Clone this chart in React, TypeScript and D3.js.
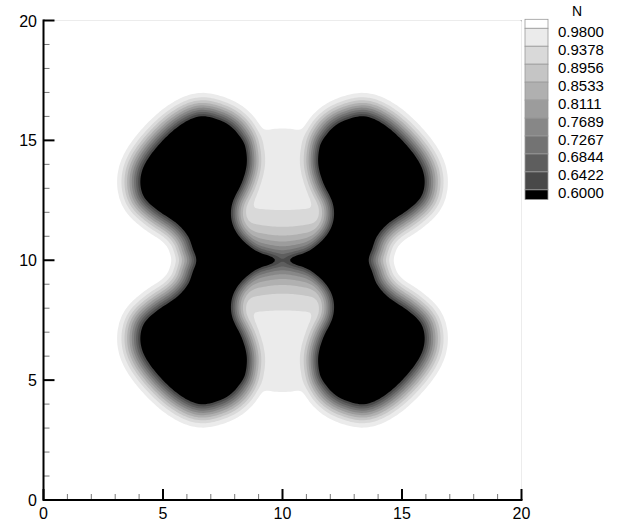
import React, { useMemo } from 'react';
import * as d3 from 'd3';

// contour levels of N (ascending) and their legend labels
const levels = [0.6, 0.6422, 0.6844, 0.7267, 0.7689, 0.8111, 0.8533, 0.8956, 0.9378, 0.98];
const levelLabels = ['0.6000', '0.6422', '0.6844', '0.7267', '0.7689', '0.8111', '0.8533', '0.8956', '0.9378', '0.9800'];
// flood colours: below 0.6, each band, above 0.98
const bandColors = ['#000000', '#494949', '#5e5e5e', '#737373', '#878787', '#9c9c9c', '#b0b0b0', '#c5c5c5', '#d9d9d9', '#ebebeb', '#ffffff'];

// outline of the dark (N < 0.6) region, upper-left quarter
const edgeX = [9.76, 8.92, 8.22, 7.87, 7.77, 7.87, 8.22, 8.43, 8.43, 8.29, 7.94, 7.38, 6.55, 5.71, 4.87, 4.25, 4.04, 4.18, 4.74, 5.57, 6.06, 6.25, 6.42];
const edgeY = [10.0, 10.29, 10.85, 11.4, 11.96, 12.52, 13.21, 13.9, 14.46, 15.02, 15.51, 15.85, 16.02, 15.64, 14.88, 14.05, 13.35, 12.65, 12.1, 11.54, 10.98, 10.43, 10.0];

// light pools above and below the centre
const poolCentersY = [12.25, 7.75];
const poolRadius = 3.25;
const poolDepth = 0.04;

// halo widths around the dark region (outside / inside the pools) and profile power
const haloWidth = [1.0, 0.85];
const haloPower = 1.3;
// pocket around the saddle: depth, scale, power, wall angle, opening (deg), reach
const wedge = [0.34, 0.9, 1.2, 19, 142, 3.0];
const smoothing = 0.15;

const xTicks = [0, 5, 10, 15, 20];
const yTicks = [0, 5, 10, 15, 20];
const minorTicks = d3.range(0, 21);

const W = 622;
const H = 525;
const x = d3.scaleLinear().domain([0, 20]).range([43.5, 521.5]);
const y = d3.scaleLinear().domain([0, 20]).range([500, 20.5]);

function catmullRom(pts, steps) {
  const out = [];
  const n = pts.length;
  for (let i = 0; i < n; i++) {
    const p0 = pts[(i - 1 + n) % n], p1 = pts[i], p2 = pts[(i + 1) % n], p3 = pts[(i + 2) % n];
    for (let s = 0; s < steps; s++) {
      const t = s / steps, t2 = t * t, t3 = t2 * t;
      out.push([0, 1].map(k => 0.5 * (2 * p1[k] + (p2[k] - p0[k]) * t +
        (2 * p0[k] - 5 * p1[k] + 4 * p2[k] - p3[k]) * t2 +
        (3 * p1[k] - p0[k] - 3 * p2[k] + p3[k]) * t3)));
    }
  }
  return out;
}

function buildBlobs() {
  const quarter = edgeX.map((v, i) => [v, edgeY[i]]);
  const lower = quarter.slice(1, -1).reverse().map(([a, b]) => [a, 20 - b]);
  const left = catmullRom([...quarter, ...lower], 6);
  const right = left.map(([a, b]) => [20 - a, b]);
  return [left, right];
}

function poolMask(px, py) {
  let m = 0;
  for (const cy of poolCentersY) {
    const r = Math.hypot(px - 10, py - cy);
    m = Math.max(m, 1 / (1 + Math.exp((r - poolRadius) / 0.06)));
  }
  return m;
}

function wedgeDip(px, py) {
  const [depth, scale, power, wall, opening, reach] = wedge;
  const dx = px - 10, dy = Math.abs(py - 10);
  const r = Math.hypot(dx, dy);
  const th = Math.atan2(dy, dx) * 180 / Math.PI - wall;
  const k = 180 / opening;
  let s = 0;
  if (th > 0 && th < opening) s = Math.sin(k * th * Math.PI / 180);
  const rho = r * Math.pow(Math.max(s, 0), 1 / k);
  const win = 1 / (1 + Math.exp((r - reach) / 0.15));
  return depth * Math.exp(-Math.pow(rho / scale, power)) * win;
}

function blur(src, n, sig) {
  const r = Math.ceil(3 * sig);
  const kern = d3.range(-r, r + 1).map(k => Math.exp(-(k * k) / (2 * sig * sig)));
  const tmp = new Float64Array(n * n);
  const out = new Float64Array(n * n);
  for (let j = 0; j < n; j++)
    for (let i = 0; i < n; i++) {
      let s = 0, w = 0;
      for (let k = -r; k <= r; k++) {
        const ii = i + k;
        if (ii >= 0 && ii < n) { s += kern[k + r] * src[j * n + ii]; w += kern[k + r]; }
      }
      tmp[j * n + i] = s / w;
    }
  for (let j = 0; j < n; j++)
    for (let i = 0; i < n; i++) {
      let s = 0, w = 0;
      for (let k = -r; k <= r; k++) {
        const jj = j + k;
        if (jj >= 0 && jj < n) { s += kern[k + r] * tmp[jj * n + i]; w += kern[k + r]; }
      }
      out[j * n + i] = s / w;
    }
  return out;
}

function buildField(n, blobs) {
  const h = 20 / n;
  const values = new Float64Array(n * n);
  for (let j = 0; j < n; j++) {
    const py = 20 - (j + 0.5) * h;
    for (let i = 0; i < n; i++) {
      const px = (i + 0.5) * h;
      let d2 = Infinity;
      let inside = false;
      for (const poly of blobs) {
        if (d3.polygonContains(poly, [px, py])) inside = true;
        const m = poly.length;
        for (let k = 0; k < m; k++) {
          const a = poly[k], b = poly[(k + 1) % m];
          const ex = b[0] - a[0], ey = b[1] - a[1];
          const wx = px - a[0], wy = py - a[1];
          let t = (wx * ex + wy * ey) / (ex * ex + ey * ey);
          t = t < 0 ? 0 : t > 1 ? 1 : t;
          const dx = wx - t * ex, dy = wy - t * ey;
          const dd = dx * dx + dy * dy;
          if (dd < d2) d2 = dd;
        }
      }
      const d = Math.sqrt(d2);
      const mask = poolMask(px, py);
      const wHalo = haloWidth[0] + (haloWidth[1] - haloWidth[0]) * mask;
      let halo;
      if (inside) halo = Math.min(0.5, 0.4 + 0.4 * haloPower * d / wHalo);
      else halo = d < wHalo ? 0.4 * Math.pow(1 - d / wHalo, haloPower) : 0;
      const deficit = Math.max(halo, wedgeDip(px, py)) + poolDepth * mask;
      values[j * n + i] = 1 - deficit;
    }
  }
  return blur(values, n, smoothing / h);
}

const App = () => {
  const n = 220;
  const h = 20 / n;

  const contours = useMemo(() => {
    const blobs = buildBlobs();
    const values = buildField(n, blobs);
    return d3.contours().size([n, n]).thresholds(levels)(Array.from(values));
  }, []);

  const path = d3.geoPath(d3.geoTransform({
    point(px, py) { this.stream.point(x(px * h), y(20 - py * h)); }
  }));

  const legendTop = 19.3;
  const legendStep = 17.95;
  const bound = k => 28.3 + k * legendStep; // k = 0 for the highest level
  const font = 'Liberation Sans, Arial, Helvetica, sans-serif';

  return (
    <svg width={W} height={H} style={{ position: 'absolute', left: 0, top: 0, background: '#fff' }}>
      <rect x={x(0)} y={y(20)} width={x(20) - x(0)} height={y(0) - y(20)} fill="#000" />
      {contours.map((c, i) => (
        <path key={i} d={path(c)} fill={bandColors[levels.indexOf(c.value) + 1]} />
      ))}

      {/* minor ticks */}
      {minorTicks.filter(t => t % 5 !== 0).map(t => (
        <g key={'m' + t} stroke="#777" strokeWidth={1}>
          <line x1={x(t)} x2={x(t)} y1={y(0)} y2={y(0) - 6} />
          <line x1={x(0)} x2={x(0) + 6} y1={y(t)} y2={y(t)} />
        </g>
      ))}
      {/* major ticks */}
      {xTicks.map(t => (
        <line key={'xt' + t} x1={x(t)} x2={x(t)} y1={y(0)} y2={y(0) - 11} stroke="#000" strokeWidth={2} />
      ))}
      {yTicks.map(t => (
        <line key={'yt' + t} x1={x(0)} x2={x(0) + 11} y1={y(t)} y2={y(t)} stroke="#000" strokeWidth={2} />
      ))}
      <line x1={x(0)} x2={x(20) + 1} y1={y(0)} y2={y(0)} stroke="#000" strokeWidth={2} />
      <line x1={x(0)} x2={x(0)} y1={y(0) + 1} y2={y(20) - 1} stroke="#000" strokeWidth={2} />

      {xTicks.map(t => (
        <text key={'xl' + t} x={x(t)} y={519} textAnchor="middle" fontFamily={font} fontSize={16} fill="#000">{t}</text>
      ))}
      {yTicks.map(t => (
        <text key={'yl' + t} x={37} y={y(t) + 6} textAnchor="end" fontFamily={font} fontSize={16} fill="#000">{t}</text>
      ))}

      {/* legend */}
      <text x={577} y={16} textAnchor="middle" fontFamily={font} fontSize={14} fill="#000">N</text>
      <rect x={525} y={legendTop} width={23} height={bound(0) - legendTop} fill={bandColors[10]} stroke="#999" strokeWidth={0.8} />
      {d3.range(9).map(k => (
        <rect key={'lb' + k} x={525} y={bound(k)} width={23} height={legendStep} fill={bandColors[9 - k]} stroke="#999" strokeWidth={0.8} />
      ))}
      <rect x={525} y={bound(9)} width={23} height={9.7} fill={bandColors[0]} stroke="#999" strokeWidth={0.8} />
      {levelLabels.slice().reverse().map((lab, k) => (
        <text key={'ll' + k} x={558} y={bound(k) + 8.5} fontFamily={font} fontSize={15} fill="#000">{lab}</text>
      ))}
    </svg>
  );
};

export default App;
